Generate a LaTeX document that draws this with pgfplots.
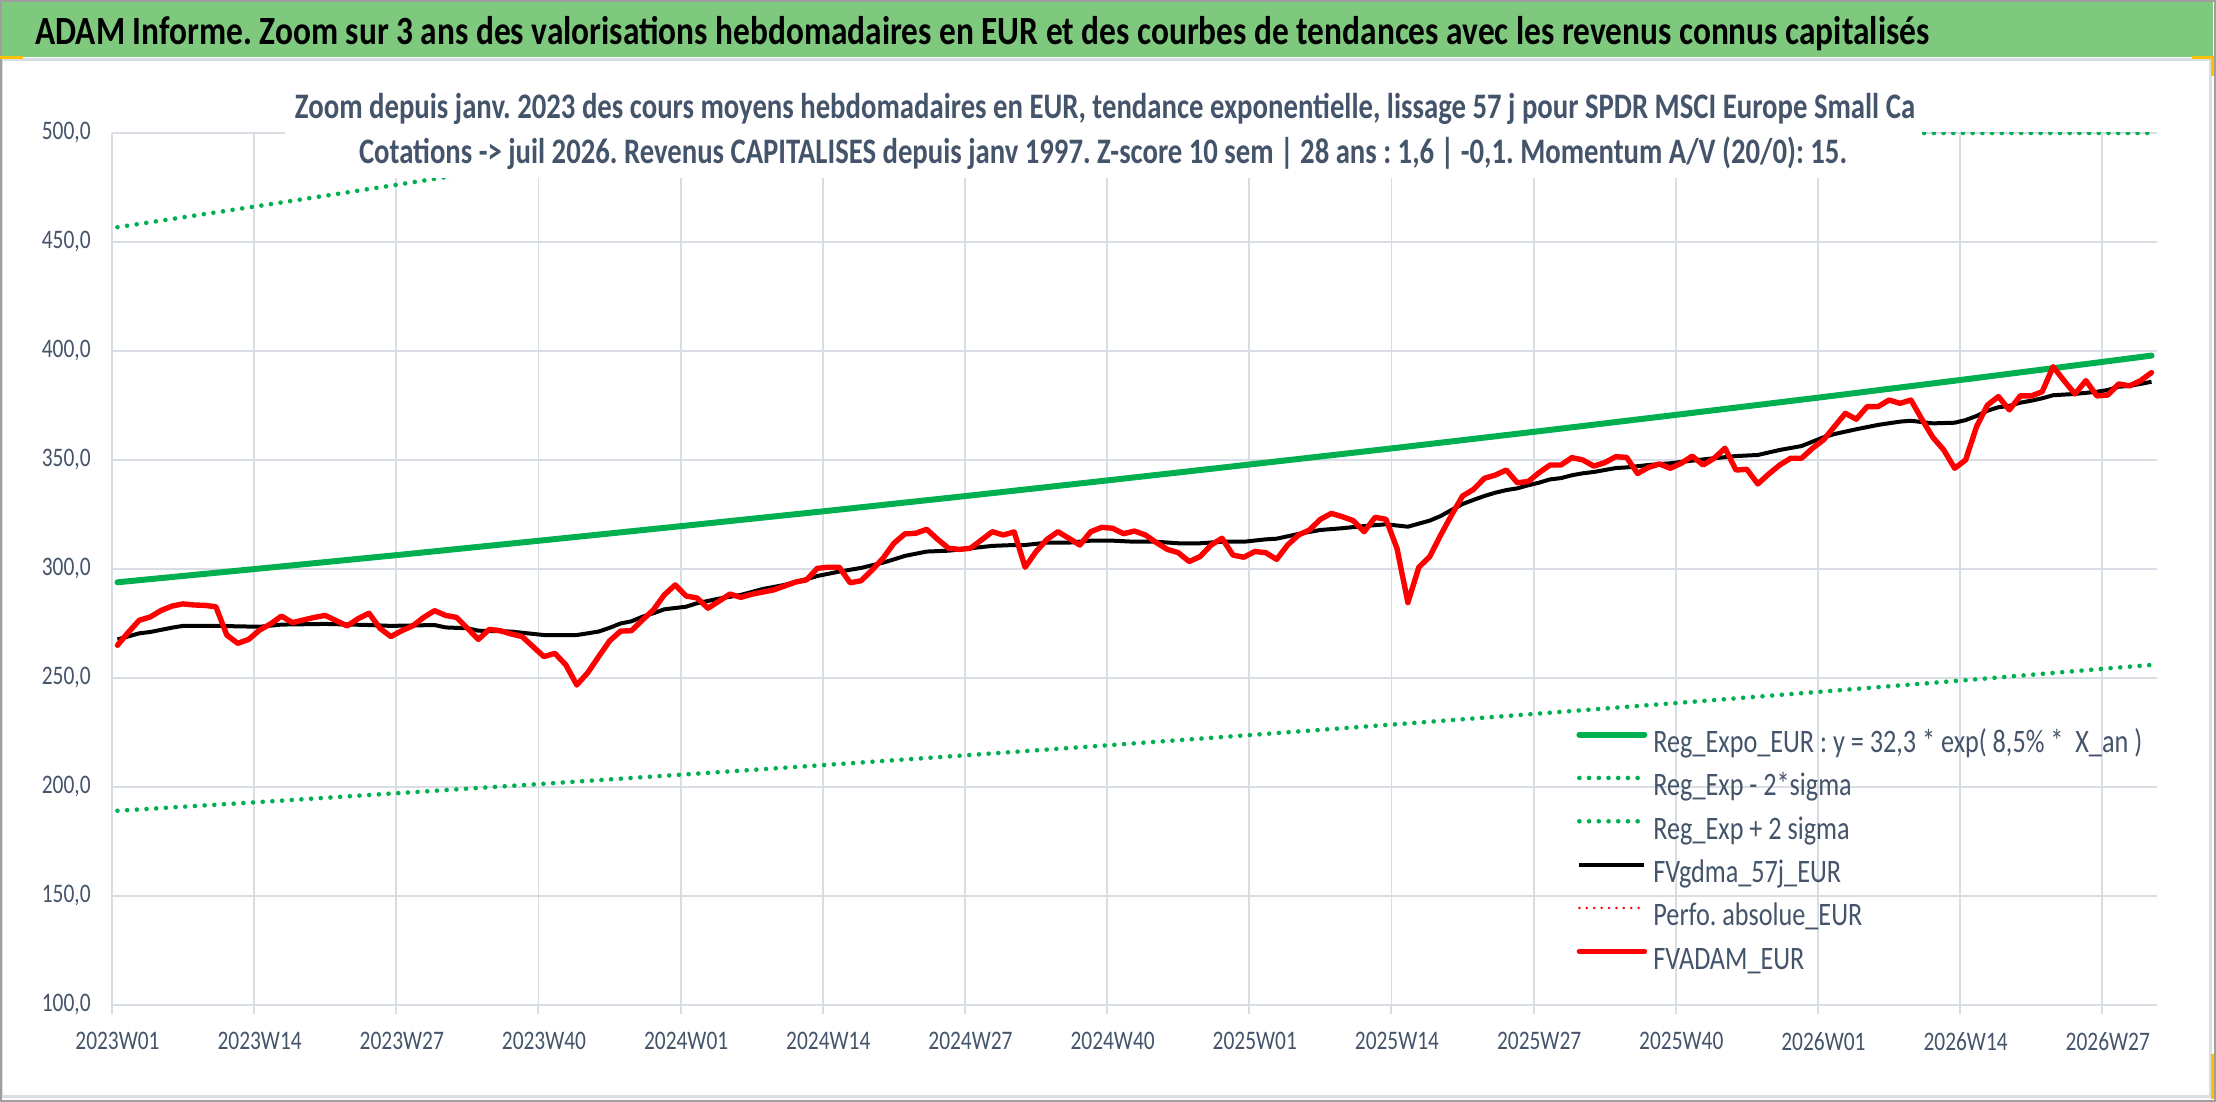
\documentclass[border=0pt]{standalone}
\usepackage{pgfplots}
\pgfplotsset{compat=1.18}
\usepackage{pgfplotstable}
\usepackage{fontspec}
\setmainfont{Carlito}
\usepackage{graphicx}
\frenchspacing
\definecolor{xgreen}{RGB}{0,176,80}
\definecolor{titlegreen}{RGB}{127,201,127}
\definecolor{txt}{RGB}{68,84,106}
\definecolor{gridc}{RGB}{217,222,229}
\definecolor{handle}{RGB}{255,192,0}
\newcommand\vs[1]{\scalebox{1}[1.25]{#1}}

\pgfplotstableread{
x y
0 265.0
1 271.0
2 276.5
3 278.0
4 281.0
5 283.0
6 284.0
7 283.5
8 283.3
9 282.7
10 269.7
11 265.9
12 267.7
13 272.0
14 274.8
15 278.4
16 275.4
17 276.6
18 277.8
19 278.7
20 276.3
21 273.9
22 277.2
23 279.7
24 272.8
25 269.0
26 271.7
27 273.9
28 277.8
29 280.9
30 278.7
31 277.8
32 272.8
33 267.7
34 272.3
35 271.7
36 270.2
37 269.0
38 264.4
39 259.8
40 261.3
41 256.0
42 246.8
43 252.4
44 259.8
45 267.0
46 271.5
47 271.7
48 276.6
49 281.2
50 288.1
51 292.7
52 287.6
53 286.7
54 282.0
55 285.2
56 288.5
57 287.0
58 288.4
59 289.4
60 290.4
61 292.2
62 294.0
63 295.0
64 300.3
65 300.8
66 300.8
67 293.7
68 294.6
69 299.5
70 304.9
71 311.8
72 316.1
73 316.4
74 318.2
75 313.6
76 309.5
77 309.0
78 309.5
79 313.3
80 317.1
81 315.6
82 317.0
83 300.8
84 308.0
85 313.6
86 317.1
87 314.1
88 311.0
89 317.1
90 319.1
91 318.7
92 316.2
93 317.4
94 315.6
95 312.1
96 309.0
97 307.5
98 303.4
99 305.7
100 311.0
101 314.1
102 306.4
103 305.4
104 308.0
105 307.5
106 304.4
107 311.0
108 315.6
109 317.9
110 322.8
111 325.5
112 324.0
113 322.2
114 317.1
115 323.7
116 322.8
117 309.5
118 284.6
119 300.8
120 305.7
121 315.6
122 324.8
123 333.5
124 336.5
125 341.6
126 343.1
127 345.4
128 339.6
129 340.1
130 344.2
131 347.7
132 347.7
133 351.1
134 350.0
135 347.2
136 348.8
137 351.5
138 351.2
139 343.8
140 346.6
141 348.2
142 346.2
143 348.5
144 351.8
145 347.7
146 350.8
147 355.4
148 345.4
149 345.7
150 339.0
151 343.6
152 347.7
153 350.8
154 350.8
155 355.4
156 359.2
157 365.3
158 371.4
159 368.7
160 374.5
161 374.5
162 377.5
163 376.0
164 377.5
165 368.7
166 360.4
167 354.6
168 346.2
169 350.0
170 365.3
171 375.2
172 379.1
173 373.0
174 379.4
175 379.4
176 381.3
177 392.8
178 386.4
179 380.3
180 386.4
181 379.4
182 379.8
183 384.9
184 384.0
185 386.4
186 390.1
}\redtab

\pgfplotstableread{
x y
0 267.7
2 270.5
3 271.1
5 273.1
6 273.9
9 273.9
13 273.5
15 274.5
19 274.8
23 274.3
25 273.9
29 274.3
30 273.2
32 272.8
33 271.7
36 271.3
39 269.7
42 269.7
44 271.3
45 273.0
46 275.0
47 276.0
48 278.1
49 279.7
50 281.5
52 282.7
53 284.3
55 286.4
57 288.1
59 290.8
61 292.7
63 295.3
64 296.8
66 298.8
68 300.5
70 302.9
71 304.4
72 306.0
74 308.0
76 308.4
78 309.5
80 310.6
82 311.0
83 311.0
85 312.1
87 312.1
89 313.0
91 313.0
93 312.5
95 312.5
97 311.8
99 311.8
101 312.5
103 312.5
105 313.6
106 313.9
108 316.1
110 317.9
112 318.7
114 319.7
116 320.5
118 319.4
120 322.2
121 324.3
122 327.1
123 329.8
124 331.7
125 333.5
126 335.0
127 336.2
128 337.0
129 338.4
130 339.6
131 341.1
132 341.7
133 343.0
134 343.9
135 344.5
136 345.4
137 346.3
138 346.6
140 347.7
142 348.5
144 349.7
146 350.8
148 351.8
150 352.3
152 354.6
154 356.4
156 360.4
157 361.9
159 364.1
161 366.1
163 367.6
164 368.0
166 366.8
168 367.1
169 368.3
170 370.2
171 372.6
172 374.2
173 374.8
174 376.3
175 377.2
176 378.3
177 379.7
179 380.3
181 381.3
182 382.1
183 383.6
184 384.0
185 384.9
186 385.9
}\blacktab

\pgfplotstableread{
x y
0 293.9
13 300.2
26 306.6
39 313.2
52 319.9
65 326.7
78 333.7
91 340.9
104 348.2
117 355.6
130 363.2
143 371.0
156 378.9
169 387.0
182 395.3
186 397.9
}\regtab

\pgfplotstableread{
x y
0 189.1
13 193.1
26 197.3
39 201.5
52 205.8
65 210.2
78 214.7
91 219.3
104 224.0
117 228.8
130 233.7
143 238.7
156 243.8
169 249.0
182 254.4
186 256.0
}\lowtab

\pgfplotstableread{
x y
0 456.8
13 466.6
26 476.6
39 486.8
52 497.2
55 499.5
56 500.0
78 500.0
104 500.0
130 500.0
156 500.0
186 500.0
}\hightab

\begin{document}
\begin{tikzpicture}[x=1pt,y=1pt]
\useasboundingbox (0,0) rectangle (1108,551);
\fill[white] (0,0) rectangle (1108,551);
\fill[titlegreen] (0,522.5) rectangle (1106.5,550);
\draw[gridc, line width=1.5pt] (0.75,2.5) rectangle (1105,521);
\draw[gray!75, line width=1pt] (0.5,0.5) rectangle (1107.5,550.5);
\draw[handle, line width=1.2pt] (0,522.3) -- (11.5,522.3);
\draw[handle, line width=1.2pt] (1096,522.3) -- (1106.2,522.3) -- (1106.2,513);
\draw[handle, line width=1.2pt] (1106.2,24) -- (1106.2,1.5);
\node[anchor=base west, inner sep=0pt, text=black] at (17.5,528.5)
  {\scalebox{1}[1.2]{\resizebox{947pt}{!}{\bfseries ADAM Informe. Zoom sur 3 ans des valorisations hebdomadaires en EUR et des courbes de tendances avec les revenus connus capitalisés}}};

\begin{axis}[
  at={(56pt,48.5pt)}, anchor=south west,
  scale only axis, width=1022.5pt, height=436pt,
  xmin=-0.5, xmax=186.5, ymin=100, ymax=500,
  axis x line*=bottom, axis y line*=left,
  axis line style={gridc, line width=1.3pt},
  xtick={0,13,...,182},
  xticklabels={\vs{2023W01},\vs{2023W14},\vs{2023W27},\vs{2023W40},\vs{2024W01},\vs{2024W14},\vs{2024W27},\vs{2024W40},\vs{2025W01},\vs{2025W14},\vs{2025W27},\vs{2025W40},\vs{2026W01},\vs{2026W14},\vs{2026W27}},
  minor xtick={-0.5,12.5,...,181.5},
  ytick={100,150,...,500},
  major tick length=0pt, minor tick length=4.5pt, tick align=outside,
  minor x tick style={gridc, line width=1pt},
  xmajorgrids=false, xminorgrids=true, ymajorgrids=true,
  major grid style={gridc, line width=0.9pt},
  minor grid style={gridc, line width=0.9pt},
  /pgf/number format/assume math mode=true,
  yticklabel={\vs{\pgfmathprintnumber[fixed,fixed zerofill,precision=1,use comma]{\tick}}},
  ticklabel style={font=\fontsize{10.7pt}{12pt}\selectfont, text=txt, inner sep=0pt},
  yticklabel style={anchor=east, xshift=-10.5pt},
  xticklabel style={anchor=north, yshift=-13.5pt},
  legend image code/.code={\draw[#1] (0pt,5.25pt) -- (32.5pt,5.25pt);},
  legend cell align=left,
  legend style={at={(0.7159,0.314)}, anchor=north west, draw=none, fill=none,
    inner sep=0pt, row sep=8.17pt, column sep=3pt,
    font=\fontsize{13.1pt}{15pt}\selectfont, text=txt,
    nodes={inner sep=0pt, text height=10.5pt, text depth=3pt}},
]
\addplot[xgreen, line width=3pt, line cap=round] table {\regtab};
\addlegendentry{\vs{Reg\_Expo\_EUR : y = 32,3 * exp( 8,5\% *\ \ X\_an )}}
\addplot[xgreen, line width=2.3pt, line cap=round, dash pattern=on 0pt off 4.85pt] table {\lowtab};
\addlegendentry{\vs{Reg\_Exp - 2*sigma}}
\addplot[xgreen, line width=2.3pt, line cap=round, dash pattern=on 0pt off 4.85pt] table {\hightab};
\addlegendentry{\vs{Reg\_Exp + 2 sigma}}
\addplot[black, line width=2pt, line join=round] table {\blacktab};
\addlegendentry{\vs{FVgdma\_57j\_EUR}}
\addlegendimage{red, line width=1.4pt, line cap=round, dash pattern=on 0pt off 3.7pt}
\addlegendentry{\vs{Perfo. absolue\_EUR}}
\addplot[red, line width=2.7pt, line join=round, line cap=round] table {\redtab};
\addlegendentry{\vs{FVADAM\_EUR}}
\end{axis}

\fill[white] (142.5,462) rectangle (961,520);
\node[anchor=base, inner sep=0pt, text=txt] at (552.5,491.8)
  {\scalebox{1}[1.25]{\resizebox{810pt}{!}{\bfseries Zoom depuis janv. 2023 des cours moyens hebdomadaires en EUR, tendance exponentielle, lissage 57 j pour SPDR MSCI Europe Small Ca}}};
\node[anchor=base, inner sep=0pt, text=txt] at (551.5,469)
  {\scalebox{1}[1.25]{\resizebox{744pt}{!}{\bfseries Cotations -> juil 2026. Revenus CAPITALISES depuis janv 1997. Z-score 10 sem | 28 ans : 1,6 | -0,1. Momentum A/V (20/0): 15.}}};
\end{tikzpicture}
\end{document}
